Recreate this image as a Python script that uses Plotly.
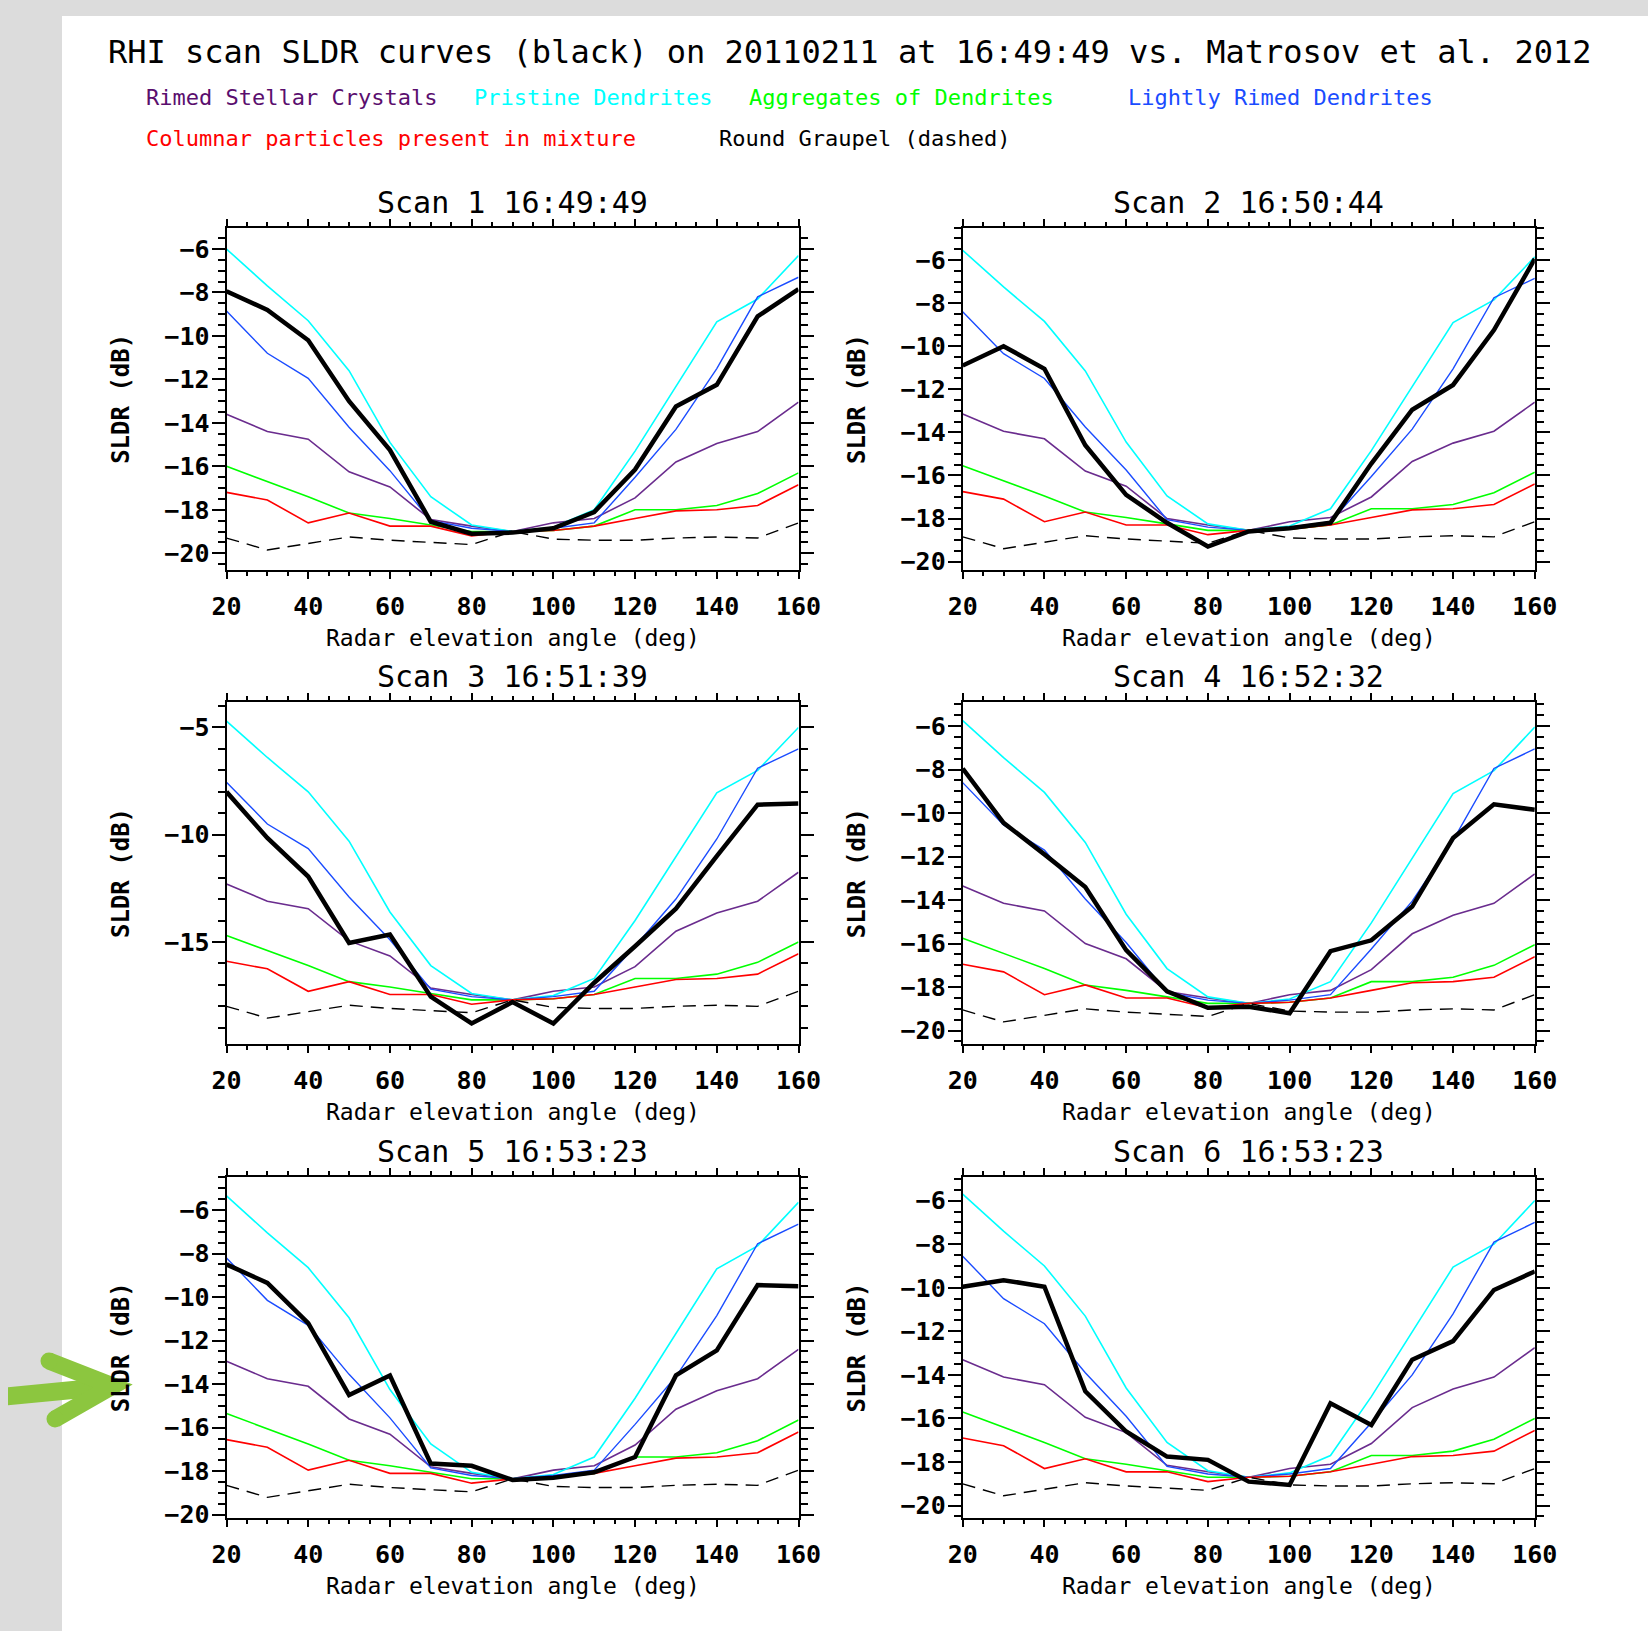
import plotly.graph_objects as go

# ---------------- data ----------------
ANGLES = [20, 30, 40, 50, 60, 70, 80, 90, 100, 110, 120, 130, 140, 150, 160]

SCAN_TITLES = ["Scan 1 16:49:49", "Scan 2 16:50:44", "Scan 3 16:51:39",
               "Scan 4 16:52:32", "Scan 5 16:53:23", "Scan 6 16:53:23"]

# measured RHI SLDR curves (black, thick)
BLACK = [
    [-7.95, -8.8, -10.2, -13.0, -15.25, -18.55, -19.1, -19.05, -18.85, -18.1, -16.15, -13.25, -12.25, -9.1, -7.85],
    [-10.9, -10.0, -11.05, -14.6, -16.9, -18.2, -19.3, -18.6, -18.45, -18.2, -15.45, -12.95, -11.8, -9.25, -5.95],
    [-8.0, -10.15, -11.95, -15.05, -14.65, -17.55, -18.8, -17.8, -18.8, -16.9, -15.2, -13.45, -11.0, -8.6, -8.55],
    [-7.95, -10.45, -11.9, -13.4, -16.3, -18.2, -18.95, -18.9, -19.2, -16.35, -15.85, -14.3, -11.15, -9.6, -9.85],
    [-8.5, -9.35, -11.2, -14.5, -13.6, -17.65, -17.75, -18.4, -18.3, -18.05, -17.35, -13.6, -12.45, -9.45, -9.5],
    [-9.95, -9.65, -9.95, -14.75, -16.6, -17.75, -17.9, -18.9, -19.05, -15.3, -16.3, -13.3, -12.45, -10.1, -9.25],
]

# Matrosov et al. 2012 model curves, one list per scan panel
RIMED_STELLAR = [
    [-13.6, -14.4, -14.75, -16.25, -16.95, -18.45, -18.75, -19.0, -18.6, -18.4, -17.45, -15.8, -14.95, -14.4, -13.05],
    [-13.15, -13.95, -14.3, -15.8, -16.5, -18.0, -18.3, -18.55, -18.15, -17.95, -17.0, -15.35, -14.5, -13.95, -12.6],
    [-12.3, -13.1, -13.45, -14.95, -15.65, -17.15, -17.45, -17.7, -17.3, -17.1, -16.15, -14.5, -13.65, -13.1, -11.75],
    [-13.35, -14.15, -14.5, -16.0, -16.7, -18.2, -18.5, -18.75, -18.35, -18.15, -17.2, -15.55, -14.7, -14.15, -12.8],
    [-12.95, -13.75, -14.1, -15.6, -16.3, -17.8, -18.1, -18.35, -17.95, -17.75, -16.8, -15.15, -14.3, -13.75, -12.4],
    [-13.3, -14.1, -14.45, -15.95, -16.65, -18.15, -18.45, -18.7, -18.3, -18.1, -17.15, -15.5, -14.65, -14.1, -12.75],
]
PRISTINE_DENDRITES = [
    [-6.0, -7.7, -9.3, -11.6, -14.9, -17.4, -18.7, -19.0, -18.8, -18.0, -15.3, -12.3, -9.35, -8.3, -6.3],
    [-5.55, -7.25, -8.85, -11.15, -14.45, -16.95, -18.25, -18.55, -18.35, -17.55, -14.85, -11.85, -8.9, -7.85, -5.85],
    [-4.7, -6.4, -8.0, -10.3, -13.6, -16.1, -17.4, -17.7, -17.5, -16.7, -14.0, -11.0, -8.05, -7.0, -5.0],
    [-5.75, -7.45, -9.05, -11.35, -14.65, -17.15, -18.45, -18.75, -18.55, -17.75, -15.05, -12.05, -9.1, -8.05, -6.05],
    [-5.35, -7.05, -8.65, -10.95, -14.25, -16.75, -18.05, -18.35, -18.15, -17.35, -14.65, -11.65, -8.7, -7.65, -5.65],
    [-5.7, -7.4, -9.0, -11.3, -14.6, -17.1, -18.4, -18.7, -18.5, -17.7, -15.0, -12.0, -9.05, -8.0, -6.0],
]
AGGREGATES = [
    [-16.0, -16.7, -17.4, -18.15, -18.4, -18.7, -19.0, -19.0, -18.95, -18.75, -18.0, -18.0, -17.8, -17.25, -16.3],
    [-15.55, -16.25, -16.95, -17.7, -17.95, -18.25, -18.55, -18.55, -18.5, -18.3, -17.55, -17.55, -17.35, -16.8, -15.85],
    [-14.7, -15.4, -16.1, -16.85, -17.1, -17.4, -17.7, -17.7, -17.65, -17.45, -16.7, -16.7, -16.5, -15.95, -15.0],
    [-15.75, -16.45, -17.15, -17.9, -18.15, -18.45, -18.75, -18.75, -18.7, -18.5, -17.75, -17.75, -17.55, -17.0, -16.05],
    [-15.35, -16.05, -16.75, -17.5, -17.75, -18.05, -18.35, -18.35, -18.3, -18.1, -17.35, -17.35, -17.15, -16.6, -15.65],
    [-15.7, -16.4, -17.1, -17.85, -18.1, -18.4, -18.7, -18.7, -18.65, -18.45, -17.7, -17.7, -17.5, -16.95, -16.0],
]
LIGHTLY_RIMED = [
    [-8.85, -10.8, -11.95, -14.2, -16.2, -18.5, -18.85, -19.0, -18.85, -18.6, -16.5, -14.3, -11.5, -8.2, -7.3],
    [-8.4, -10.35, -11.5, -13.75, -15.75, -18.05, -18.4, -18.55, -18.4, -18.15, -16.05, -13.85, -11.05, -7.75, -6.85],
    [-7.55, -9.5, -10.65, -12.9, -14.9, -17.2, -17.55, -17.7, -17.55, -17.3, -15.2, -13.0, -10.2, -6.9, -6.0],
    [-8.6, -10.55, -11.7, -13.95, -15.95, -18.25, -18.6, -18.75, -18.6, -18.35, -16.25, -14.05, -11.25, -7.95, -7.05],
    [-8.2, -10.15, -11.3, -13.55, -15.55, -17.85, -18.2, -18.35, -18.2, -17.95, -15.85, -13.65, -10.85, -7.55, -6.65],
    [-8.55, -10.5, -11.65, -13.9, -15.9, -18.2, -18.55, -18.7, -18.55, -18.3, -16.2, -14.0, -11.2, -7.9, -7.0],
]
COLUMNAR = [
    [-17.2, -17.55, -18.6, -18.15, -18.75, -18.75, -19.2, -19.0, -18.95, -18.75, -18.4, -18.05, -18.0, -17.8, -16.85],
    [-16.75, -17.1, -18.15, -17.7, -18.3, -18.3, -18.75, -18.55, -18.5, -18.3, -17.95, -17.6, -17.55, -17.35, -16.4],
    [-15.9, -16.25, -17.3, -16.85, -17.45, -17.45, -17.9, -17.7, -17.65, -17.45, -17.1, -16.75, -16.7, -16.5, -15.55],
    [-16.95, -17.3, -18.35, -17.9, -18.5, -18.5, -18.95, -18.75, -18.7, -18.5, -18.15, -17.8, -17.75, -17.55, -16.6],
    [-16.55, -16.9, -17.95, -17.5, -18.1, -18.1, -18.55, -18.35, -18.3, -18.1, -17.75, -17.4, -17.35, -17.15, -16.2],
    [-16.9, -17.25, -18.3, -17.85, -18.45, -18.45, -18.9, -18.7, -18.65, -18.45, -18.1, -17.75, -17.7, -17.5, -16.55],
]
ROUND_GRAUPEL = [
    [-19.3, -19.85, -19.55, -19.25, -19.4, -19.5, -19.6, -19.0, -19.35, -19.4, -19.4, -19.3, -19.25, -19.3, -18.6],
    [-18.85, -19.4, -19.1, -18.8, -18.95, -19.05, -19.15, -18.55, -18.9, -18.95, -18.95, -18.85, -18.8, -18.85, -18.15],
    [-18.0, -18.55, -18.25, -17.95, -18.1, -18.2, -18.3, -17.7, -18.05, -18.1, -18.1, -18.0, -17.95, -18.0, -17.3],
    [-19.05, -19.6, -19.3, -19.0, -19.15, -19.25, -19.35, -18.75, -19.1, -19.15, -19.15, -19.05, -19.0, -19.05, -18.35],
    [-18.65, -19.2, -18.9, -18.6, -18.75, -18.85, -18.95, -18.35, -18.7, -18.75, -18.75, -18.65, -18.6, -18.65, -17.95],
    [-19.0, -19.55, -19.25, -18.95, -19.1, -19.2, -19.3, -18.7, -19.05, -19.1, -19.1, -19.0, -18.95, -19.0, -18.3],
]

LEGEND_LABELS = ["Rimed Stellar Crystals", "Pristine Dendrites", "Aggregates of Dendrites",
                 "Lightly Rimed Dendrites", "Columnar particles present in mixture",
                 "Round Graupel (dashed)"]

X_TICKS = [20, 40, 60, 80, 100, 120, 140, 160]

# ---------------- styling / layout ----------------
PAGE_W, PAGE_H = 1648, 1631      # browser window
OFF = 8                           # default page margin around the figure
W, H = PAGE_W - 2 * OFF, PAGE_H - 2 * OFF
FONT = "DejaVu Sans Mono, Liberation Mono, monospace"

C_PURPLE_LINE = "#6a2c8e"
C_PURPLE_TEXT = "#5a0e6e"
C_CYAN = "#00ffff"
C_GREEN = "#00ff00"
C_BLUE = "#1a4cff"
C_RED = "#ff0000"
C_GREY = "#dcdcdc"

Y_RANGES = [(-20.77, -5.02), (-20.39, -4.5), (-19.77, -3.8),
            (-20.63, -4.88), (-20.15, -4.47), (-20.57, -4.9)]
Y_DTICK = [2, 2, 5, 2, 2, 2]
Y_MINOR = [0.5, 0.5, 1, 0.5, 0.5, 0.5]

# panel boxes in window pixels
COLS = [(226.5, 798.5), (962.7, 1534.8)]
ROWS = [(227.7, 570.0), (701.7, 1044.3), (1176.7, 1518.0)]


def px(x):
    """window pixel x -> paper fraction"""
    return (x - OFF) / W


def py(y):
    """window pixel y (from top) -> paper fraction"""
    return 1 - (y - OFF) / H


series = [
    (RIMED_STELLAR, C_PURPLE_LINE, 1.6, "solid"),
    (PRISTINE_DENDRITES, C_CYAN, 1.6, "solid"),
    (AGGREGATES, C_GREEN, 1.6, "solid"),
    (LIGHTLY_RIMED, C_BLUE, 1.4, "solid"),
    (COLUMNAR, C_RED, 1.6, "solid"),
    (ROUND_GRAUPEL, "#000000", 1.4, "13px,8px"),
]

fig = go.Figure()
annotations = []
layout_axes = {}

for i in range(6):
    r, c = divmod(i, 2)
    x0, x1 = COLS[c]
    ytop, ybot = ROWS[r]
    sfx = "" if i == 0 else str(i + 1)
    xa, ya = "x" + sfx, "y" + sfx

    for data, color, width, dash in series:
        fig.add_trace(go.Scatter(x=ANGLES, y=data[i], mode="lines", xaxis=xa, yaxis=ya,
                                 line=dict(color=color, width=width, dash=dash),
                                 showlegend=False, hoverinfo="skip"))
    fig.add_trace(go.Scatter(x=ANGLES, y=BLACK[i], mode="lines", xaxis=xa, yaxis=ya,
                             line=dict(color="#000000", width=4.5),
                             showlegend=False, hoverinfo="skip"))

    layout_axes["xaxis" + sfx] = dict(
        domain=[px(x0), px(x1)], anchor=ya, range=[20, 160], automargin=False,
        tickvals=X_TICKS, ticks="outside", ticklen=7, tickwidth=2, tickcolor="black",
        minor=dict(dtick=5, tick0=20, ticks="outside", ticklen=4, tickwidth=1.5, tickcolor="black"),
        showline=True, linecolor="black", linewidth=2, mirror="allticks",
        showgrid=False, zeroline=False, ticklabelstandoff=6,
        tickfont=dict(family=FONT, size=25, color="black", weight="bold"),
    )
    layout_axes["yaxis" + sfx] = dict(
        domain=[py(ybot), py(ytop)], anchor=xa, range=list(Y_RANGES[i]), automargin=False,
        dtick=Y_DTICK[i], tick0=0, ticks="outside", ticklen=13, tickwidth=2, tickcolor="black",
        minor=dict(dtick=Y_MINOR[i], tick0=0, ticks="outside", ticklen=7, tickwidth=1.5,
                   tickcolor="black"),
        showline=True, linecolor="black", linewidth=2, mirror="allticks",
        showgrid=False, zeroline=False, ticklabelstandoff=-3,
        tickfont=dict(family=FONT, size=25, color="black", weight="bold"),
    )

    xc = (x0 + x1) / 2
    annotations.append(dict(text=SCAN_TITLES[i], x=px(xc), y=py(ytop - 25), xref="paper", yref="paper",
                            xanchor="center", yanchor="middle", showarrow=False,
                            font=dict(family=FONT, size=30, color="black")))
    annotations.append(dict(text="Radar elevation angle (deg)", x=px(xc), y=py(ybot + 68),
                            xref="paper", yref="paper", xanchor="center", yanchor="middle",
                            showarrow=False, font=dict(family=FONT, size=23, color="black")))
    annotations.append(dict(text="SLDR (dB)", x=px(x0 - 105.5), y=py((ytop + ybot) / 2),
                            xref="paper", yref="paper", xanchor="center", yanchor="middle",
                            textangle=-90, showarrow=False,
                            font=dict(family=FONT, size=24, color="black", weight="bold")))

# main title
annotations.append(dict(text="RHI scan SLDR curves (black) on 20110211 at 16:49:49 vs. Matrosov et al. 2012",
                        x=px(106), y=py(52), xref="paper", yref="paper", xanchor="left",
                        yanchor="middle", showarrow=False,
                        font=dict(family=FONT, size=32, color="black")))

# colour key
legend_pos = [(144, 98, C_PURPLE_TEXT), (472, 98, C_CYAN), (747, 98, C_GREEN),
              (1126, 98, C_BLUE), (144, 138, C_RED), (717, 138, "#000000")]
for label, (lx, ly, col) in zip(LEGEND_LABELS, legend_pos):
    annotations.append(dict(text=label, x=px(lx), y=py(ly), xref="paper", yref="paper",
                            xanchor="left", yanchor="middle", showarrow=False,
                            font=dict(family=FONT, size=22, color=col)))

shapes = [
    # white page on grey slide background
    dict(type="rect", xref="paper", yref="paper", x0=px(62), x1=1.0, y0=0.0, y1=py(16),
         fillcolor="white", line=dict(width=0), layer="below"),
    # green pointer arrow
    dict(type="line", xref="paper", yref="paper", x0=px(0), y0=py(1397), x1=px(104), y1=py(1387),
         line=dict(color="#8cc63f", width=18), layer="above"),
    dict(type="path", xref="paper", yref="paper",
         path="M {} {} L {} {} L {} {}".format(px(49), py(1361), px(113), py(1386), px(55), py(1419)),
         line=dict(color="#8cc63f", width=17), layer="above"),
    dict(type="circle", xref="paper", yref="paper", x0=px(40.5), x1=px(57.5), y0=py(1369.5), y1=py(1352.5),
         fillcolor="#8cc63f", line=dict(width=0), layer="above"),
    dict(type="circle", xref="paper", yref="paper", x0=px(46.5), x1=px(63.5), y0=py(1427.5), y1=py(1410.5),
         fillcolor="#8cc63f", line=dict(width=0), layer="above"),
]

fig.update_layout(
    width=W, height=H, margin=dict(l=0, r=0, t=0, b=0, pad=0, autoexpand=False),
    paper_bgcolor=C_GREY, plot_bgcolor="white",
    annotations=annotations, shapes=shapes, **layout_axes,
)

# page background outside the figure: grey slide strip on the left/top, white elsewhere
page_bg = ("linear-gradient(to bottom, {g} 16px, rgba(0,0,0,0) 16px), "
           "linear-gradient(to right, {g} 62px, #ffffff 62px)").format(g=C_GREY)
fig.write_html(
    "out.html",
    config={"displayModeBar": False},
    post_script="document.documentElement.style.background='" + page_bg + "';",
)
